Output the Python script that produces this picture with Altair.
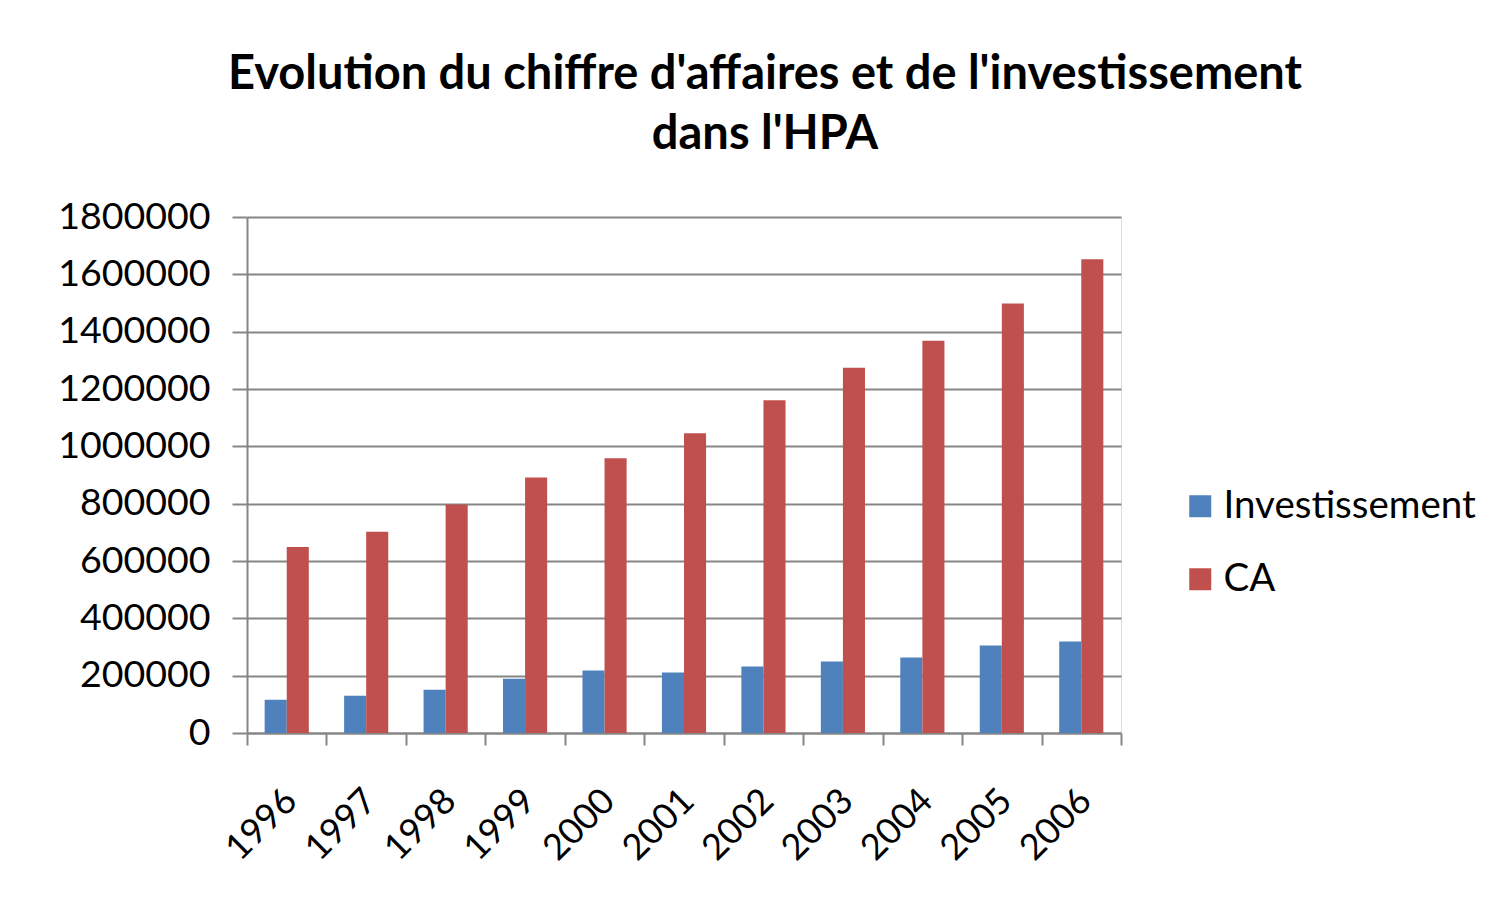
import altair as alt
import pandas as pd

years = ["1996", "1997", "1998", "1999", "2000", "2001", "2002", "2003", "2004", "2005", "2006"]
investissement = [116000, 130000, 151000, 189000, 218000, 211000, 232000, 249000, 263000, 305000, 319000]
ca = [649000, 702000, 797000, 891000, 958000, 1046000, 1161000, 1274000, 1368000, 1498000, 1653000]
series = ["Investissement", "CA"]
colors = ["#4F81BD", "#C0504D"]
y_ticks = [0, 200000, 400000, 600000, 800000, 1000000, 1200000, 1400000, 1600000, 1800000]

rows = []
for i, yr in enumerate(years):
    rows.append({"Année": yr, "Série": series[0], "Valeur": investissement[i]})
    rows.append({"Année": yr, "Série": series[1], "Valeur": ca[i]})
df = pd.DataFrame(rows)

FONT = "Lato"
GRID = "#868686"

chart = alt.Chart(df).mark_bar().encode(
    x=alt.X("Année:N", sort=years,
            scale=alt.Scale(paddingInner=0, paddingOuter=0),
            axis=alt.Axis(title=None, labelAngle=-45, labelFontSize=36, labelFont=FONT,
                          labelColor="black", tickBand="extent", tickSize=12,
                          tickColor=GRID, tickWidth=2, domainColor=GRID, domainWidth=2,
                          labelPadding=38, labelOffset=-8)),
    xOffset=alt.XOffset("Série:N", sort=series,
                        scale=alt.Scale(paddingOuter=0.8, paddingInner=0)),
    y=alt.Y("Valeur:Q", scale=alt.Scale(domain=[0, 1800000], nice=False),
            axis=alt.Axis(title=None, values=y_ticks, format="d", labelFontSize=37.5,
                          labelFont=FONT, labelColor="black", tickSize=15, tickColor=GRID,
                          tickWidth=2, domainColor=GRID, domainWidth=2, gridColor=GRID,
                          gridWidth=2, labelPadding=22)),
    color=alt.Color("Série:N", sort=series,
                    scale=alt.Scale(domain=series, range=colors),
                    legend=alt.Legend(title=None, orient="none", legendX=934, legendY=270,
                                      symbolType="square", symbolSize=484,
                                      symbolStrokeWidth=0, labelFontSize=38.5, labelFont=FONT,
                                      labelColor="black", labelOffset=4, rowPadding=34,
                                      symbolOpacity=1, labelLimit=0)),
).properties(
    width=874,
    height=516,
    title=alt.TitleParams(
        text=["Evolution du chiffre d'affaires et de l'investissement", "dans l'HPA"],
        fontSize=47, font=FONT, fontWeight="bold", color="black",
        anchor="middle", dx=81, offset=39, lineHeight=60, limit=0,
    ),
    autosize=alt.AutoSizeParams(type="none"),
    padding={"left": 239, "top": 209, "right": 360, "bottom": 165},
).configure_view(stroke=None).configure(background="white")

chart.save("out.html", embed_options={"renderer": "svg", "actions": False})
